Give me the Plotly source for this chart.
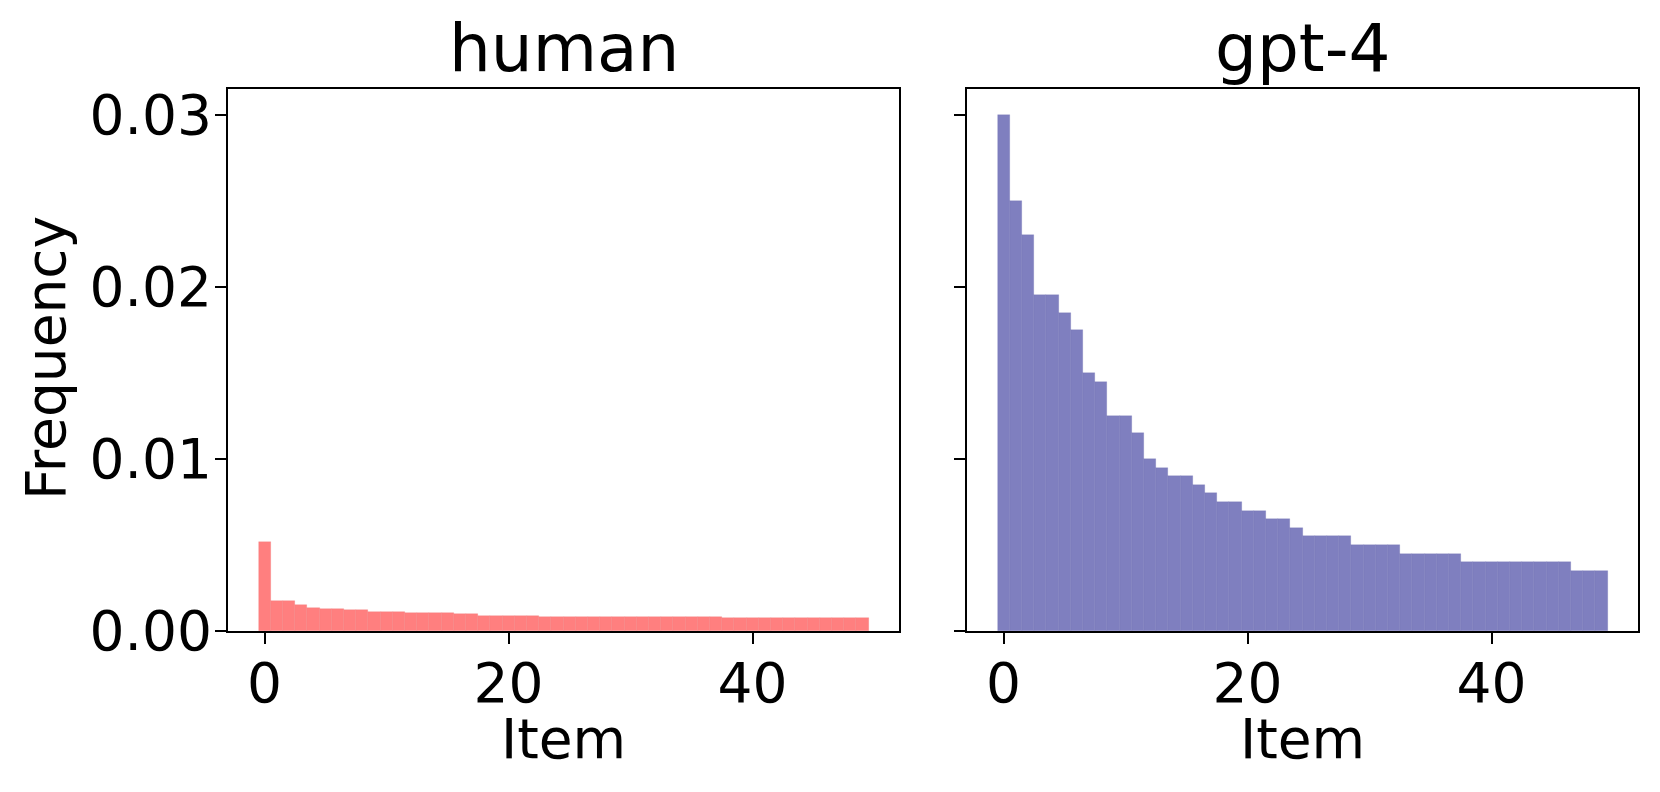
import plotly.graph_objects as go

items = list(range(50))

human_freq = [0.0052, 0.00176, 0.00176, 0.00151, 0.00136, 0.00126, 0.00126, 0.0012, 0.0012,
              0.00113, 0.00113, 0.00113,
              0.00106, 0.00106, 0.00106, 0.00106,
              0.00098, 0.00098,
              0.0009, 0.0009, 0.0009, 0.0009, 0.0009] + [0.0008] * 15 + [0.00074] * 12

gpt4_freq = [0.030, 0.025, 0.023, 0.0195, 0.0195, 0.0185, 0.0175, 0.015, 0.0145, 0.0125,
             0.0125, 0.0115, 0.010, 0.0095, 0.009, 0.009, 0.0085, 0.008, 0.0075, 0.0075,
             0.007, 0.007, 0.0065, 0.0065, 0.006] + [0.0055] * 4 + [0.005] * 4 + [0.0045] * 5 + [0.004] * 9 + [0.0035] * 3

panel_titles = ["human", "gpt-4"]
x_tickvals = [0, 20, 40]
y_tickvals = [0, 0.01, 0.02, 0.03]
y_ticktext = ["0.00", "0.01", "0.02", "0.03"]

FONT = "DejaVu Sans"
OFF = 8  # page body margin
W, H = 1660 - OFF, 792 - OFF


def px(x):
    return (x - OFF) / W


def py(y):
    return 1 - (y - OFF) / H


fig = go.Figure()
fig.add_trace(go.Bar(x=items, y=human_freq, width=1, marker=dict(color="#FF7F7F", line=dict(color="rgba(230,100,100,0.35)", width=0.6)),
                     xaxis="x", yaxis="y", showlegend=False))
fig.add_trace(go.Bar(x=items, y=gpt4_freq, width=1, marker=dict(color="#7F7FBF", line=dict(color="rgba(90,90,170,0.35)", width=0.6)),
                     xaxis="x2", yaxis="y2", showlegend=False))

left_dom = [px(228), px(899)]
right_dom = [px(967), px(1638)]
y_dom = [py(631), py(89)]

axis_common = dict(showline=True, mirror=True, linecolor="black", linewidth=2,
                   ticks="outside", ticklen=11, tickwidth=2, tickcolor="black",
                   showgrid=False, zeroline=False, automargin=False,
                   tickfont=dict(family=FONT, size=55, color="black"))

fig.update_layout(
    template="none",
    width=W, height=H, autosize=False,
    margin=dict(l=0, r=0, t=0, b=0, pad=0),
    paper_bgcolor="white", plot_bgcolor="white",
    bargap=0,
    xaxis=dict(domain=left_dom, range=[-3, 52], tickvals=x_tickvals, anchor="y", ticklabelstandoff=-8, **axis_common),
    yaxis=dict(domain=y_dom, range=[0, 0.0315], tickvals=y_tickvals, ticktext=y_ticktext, anchor="x", ticklabelstandoff=-8, **axis_common),
    xaxis2=dict(domain=right_dom, range=[-3, 52], tickvals=x_tickvals, anchor="y2", ticklabelstandoff=-8, **axis_common),
    yaxis2=dict(domain=y_dom, range=[0, 0.0315], tickvals=y_tickvals, showticklabels=False, anchor="x2", **axis_common),
)

centers = [(left_dom[0] + left_dom[1]) / 2, (right_dom[0] + right_dom[1]) / 2]
for cx, t in zip(centers, panel_titles):
    fig.add_annotation(text=t, x=cx, y=py(49), xref="paper", yref="paper",
                       xanchor="center", yanchor="middle", showarrow=False,
                       font=dict(family=FONT, size=66, color="black"))
    fig.add_annotation(text="Item", x=cx, y=py(739), xref="paper", yref="paper",
                       xanchor="center", yanchor="middle", showarrow=False,
                       font=dict(family=FONT, size=55, color="black"))

fig.add_annotation(text="Frequency", x=px(46), y=py(358), xref="paper", yref="paper",
                   xanchor="center", yanchor="middle", showarrow=False, textangle=-90,
                   font=dict(family=FONT, size=55, color="black"))

fig.write_html("out.html")
